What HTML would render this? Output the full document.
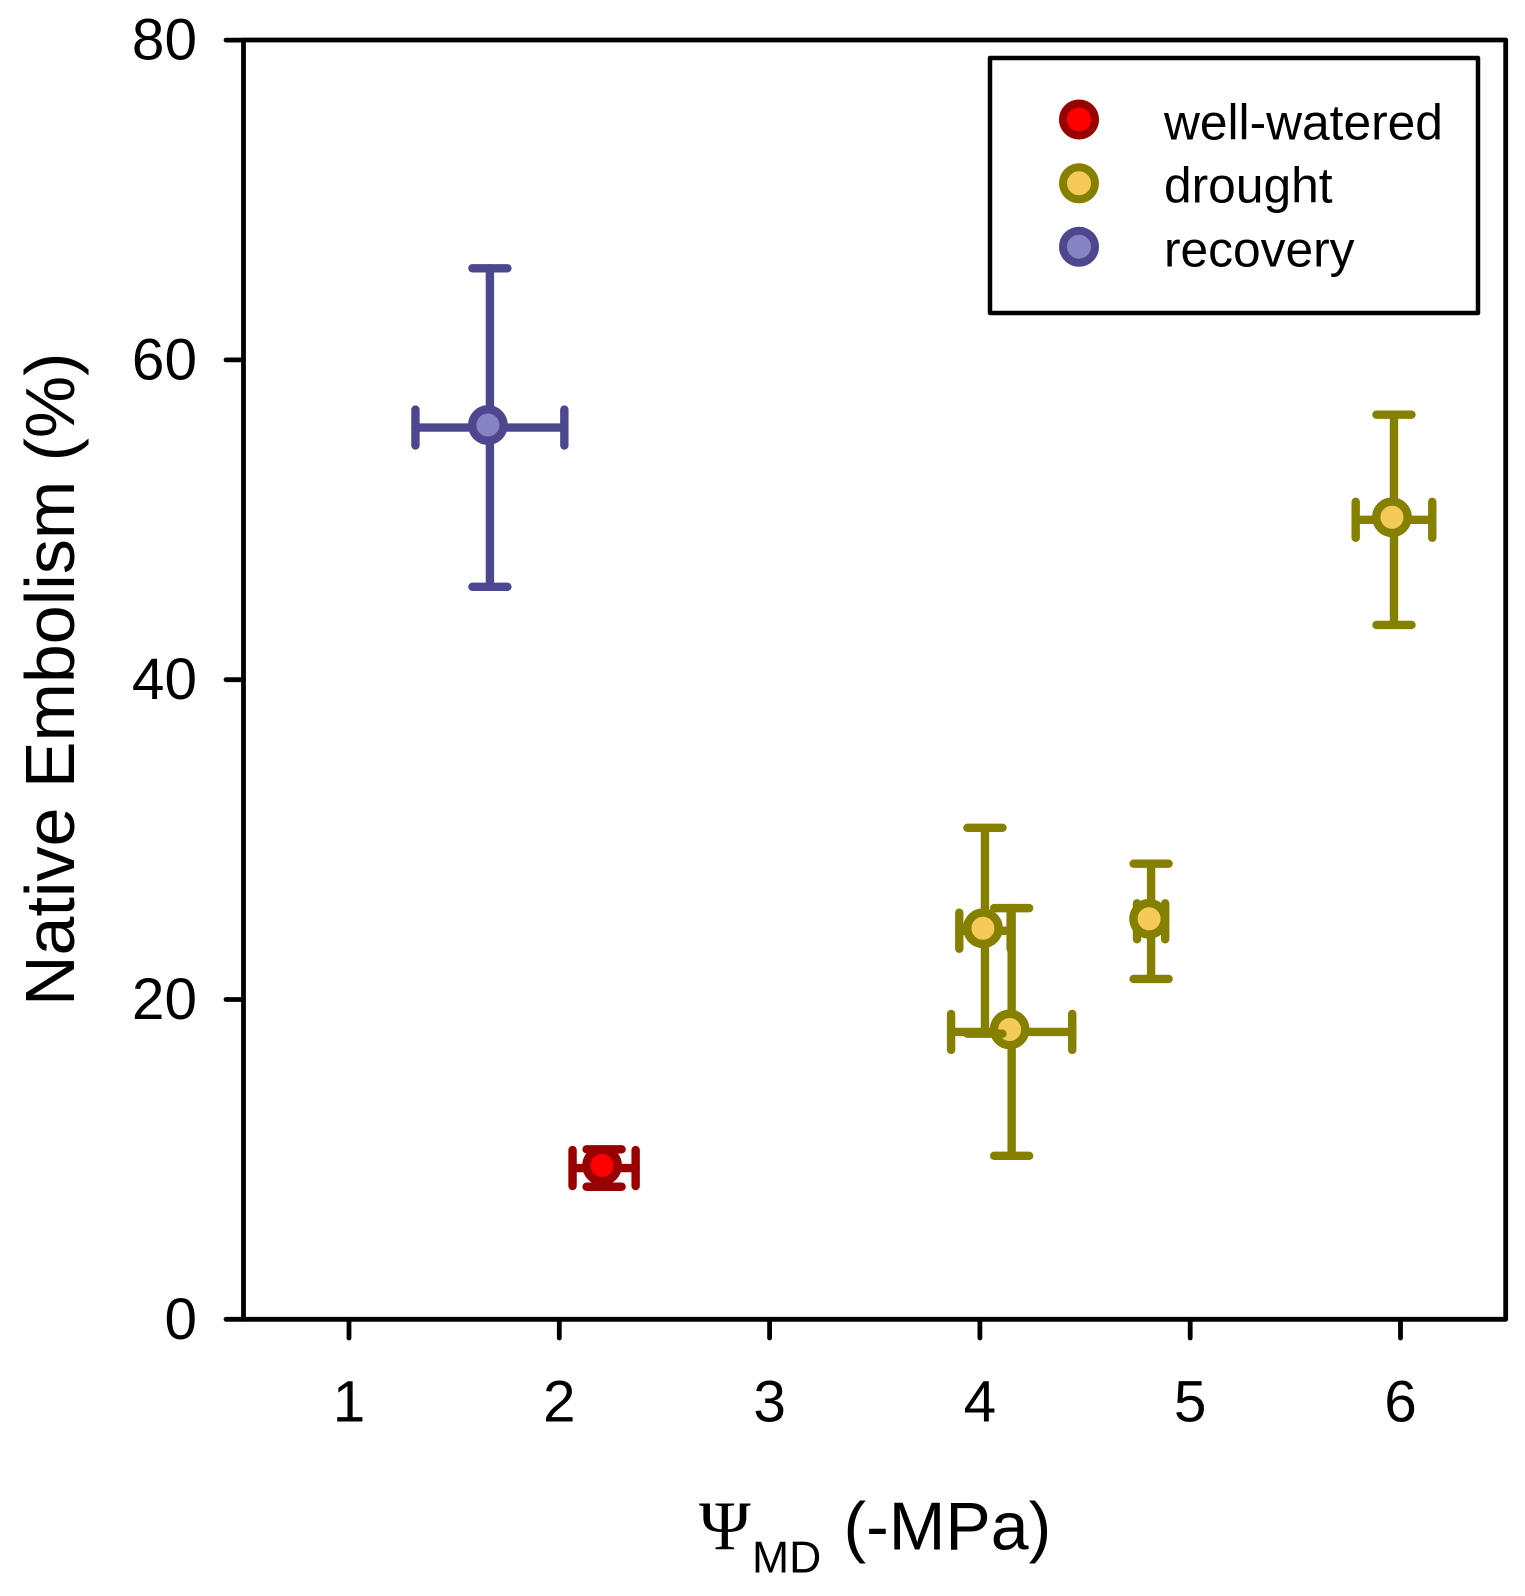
<!DOCTYPE html>
<html lang="en">
<head>
<meta charset="utf-8">
<title>Native Embolism vs Midday Water Potential</title>
<style>
  html, body { margin: 0; padding: 0; background: #ffffff; }
  svg { display: block; }
  text { font-family: "Liberation Sans", sans-serif; fill: #000000; }
</style>
</head>
<body>
<svg id="chart" xmlns="http://www.w3.org/2000/svg" width="1525" height="1596" viewBox="0 0 1525 1596">
  <rect x="0" y="0" width="1525" height="1596" fill="#ffffff"/>
</svg>
<script>
// Data
const xTicks = [1, 2, 3, 4, 5, 6];
const yTicks = [0, 20, 40, 60, 80];

const wellWateredX = [2.213];
const wellWateredY = [9.46];
const wellWateredXErr = [0.15];
const wellWateredYErr = [1.17];

const droughtX = [4.151, 4.024, 4.814, 5.969];
const droughtY = [17.97, 24.3, 24.89, 50.0];
const droughtXErr = [0.288, 0.122, 0.067, 0.182];
const droughtYErr = [7.745, 6.44, 3.605, 6.576];

const recoveryX = [1.670];
const recoveryY = [55.77];
const recoveryXErr = [0.354];
const recoveryYErr = [9.96];

const legendLabels = ['well-watered', 'drought', 'recovery'];

// Axis functions
const xOneAt = 349, xPerUnit = 210.3;
const yZeroAt = 1319.3, yPerUnit = 15.99;
function sx(v) { return xOneAt + (v - 1) * xPerUnit; }
function sy(v) { return yZeroAt - v * yPerUnit; }

const svg = document.getElementById('chart');
const NS = 'http://www.w3.org/2000/svg';
function mk(tag, attrs, parent) {
  const el = document.createElementNS(NS, tag);
  for (const k in attrs) el.setAttribute(k, attrs[k]);
  (parent || svg).appendChild(el);
  return el;
}

// Plot frame
const frame = mk('rect', {x: 243.5, y: 40, width: 1262.2, height: 1279.3, fill: 'none', stroke: '#000', 'stroke-width': 4.8, 'stroke-linejoin': 'round'});



// Y axis ticks
yTicks.forEach(function (t) {
  const tick = mk('line', {x1: 226, x2: 243.5, y1: sy(t), y2: sy(t), stroke: '#000', 'stroke-width': 4.8, 'stroke-linecap': 'round'});
  
  
  const label = mk('text', {x: 197, y: sy(t) + 19.5, 'text-anchor': 'end', 'font-size': 58.5});
  
  
  label.textContent = t;
});

// X axis ticks
xTicks.forEach(function (t) {
  const tick = mk('line', {x1: sx(t), x2: sx(t), y1: yZeroAt, y2: 1338, stroke: '#000', 'stroke-width': 4.8, 'stroke-linecap': 'round'});
  
  
  const label = mk('text', {x: sx(t), y: 1421.5, 'text-anchor': 'middle', 'font-size': 58.5});
  
  
  label.textContent = t;
});

// Axis titles
const yTitle = mk('text', {transform: 'translate(74 1006) rotate(-90)', 'font-size': 70});


yTitle.textContent = 'Native Embolism (%)';

const xTitlePsi = mk('text', {x: 699, y: 1549.5, 'font-size': 70, style: 'font-family:"Liberation Serif",serif'});


xTitlePsi.textContent = '\u03A8';

const xTitleSub = mk('text', {x: 752, y: 1572.5, 'font-size': 44.5});


xTitleSub.textContent = 'MD';

const xTitleUnit = mk('text', {x: 843.5, y: 1549.5, 'font-size': 68});


xTitleUnit.textContent = '(-MPa)';

// Marks
const capHalf = 17.5;
const markerDx = -2, markerDy = -2.5;

function drawPoint(group, x, y, xe, ye, line, fill) {
  const cx = sx(x), cy = sy(y);
  const x0 = sx(x - xe), x1 = sx(x + xe), y0 = sy(y - ye), y1 = sy(y + ye);
  const base = {stroke: line, 'stroke-width': 8.4, 'stroke-linecap': 'round'};

  const vBar = mk('line', Object.assign({x1: cx, x2: cx, y1: y0, y2: y1}, base), group);
  
  

  const vCapLow = mk('line', Object.assign({x1: cx - capHalf, x2: cx + capHalf, y1: y0, y2: y0}, base), group);
  
  

  const vCapHigh = mk('line', Object.assign({x1: cx - capHalf, x2: cx + capHalf, y1: y1, y2: y1}, base), group);
  
  

  const hBar = mk('line', Object.assign({x1: x0, x2: x1, y1: cy, y2: cy}, base), group);
  
  

  const hCapLow = mk('line', Object.assign({x1: x0, x2: x0, y1: cy - capHalf - 0.5, y2: cy + capHalf + 0.5}, base), group);
  
  

  const hCapHigh = mk('line', Object.assign({x1: x1, x2: x1, y1: cy - capHalf - 0.5, y2: cy + capHalf + 0.5}, base), group);
  
  

  const dot = mk('circle', {cx: cx + markerDx, cy: cy + markerDy, r: 15.7, fill: fill, stroke: line, 'stroke-width': 8.4}, group);
  
  
}

const recoveryGroup = mk('g', {});


recoveryX.forEach(function (v, i) {
  drawPoint(recoveryGroup, v, recoveryY[i], recoveryXErr[i], recoveryYErr[i], '#4c4890', '#8884c4');
});

const wellWateredGroup = mk('g', {});


wellWateredX.forEach(function (v, i) {
  drawPoint(wellWateredGroup, v, wellWateredY[i], wellWateredXErr[i], wellWateredYErr[i], '#990000', '#ff0000');
});

const droughtGroup = mk('g', {});


droughtX.forEach(function (v, i) {
  drawPoint(droughtGroup, v, droughtY[i], droughtXErr[i], droughtYErr[i], '#858000', '#f6ca5a');
});

// Legend
const legendGroup = mk('g', {});



const legendBox = mk('rect', {x: 990, y: 58, width: 488, height: 255, fill: '#fff', stroke: '#000', 'stroke-width': 4.5, 'stroke-linejoin': 'round'}, legendGroup);



const legendStroke = ['#990000', '#858000', '#4c4890'];
const legendFill = ['#ff0000', '#f6ca5a', '#8884c4'];
const legendMarkerY = [119.5, 183.3, 246.7];
const legendTextY = [139.3, 202.7, 266.7];
legendLabels.forEach(function (name, i) {
  const swatch = mk('circle', {cx: 1079, cy: legendMarkerY[i], r: 16, fill: legendFill[i], stroke: legendStroke[i], 'stroke-width': 8}, legendGroup);
  
  
  const entry = mk('text', {x: 1164, y: legendTextY[i], 'font-size': 49.7}, legendGroup);
  
  
  entry.textContent = name;
});
</script>
</body>
</html>
